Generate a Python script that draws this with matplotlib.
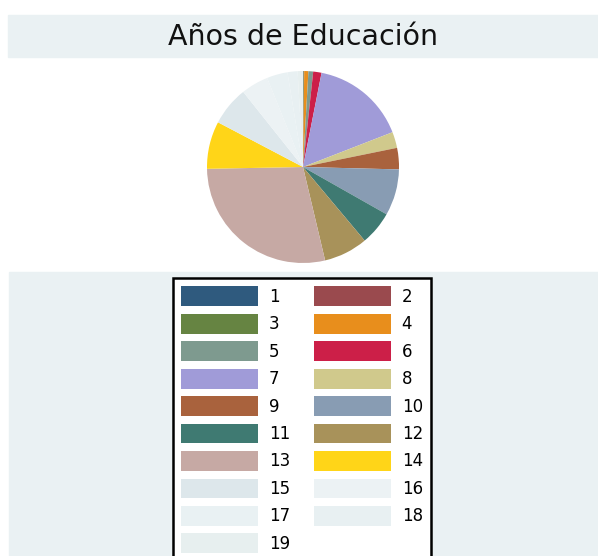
import matplotlib
matplotlib.use("Agg")
import matplotlib.pyplot as plt
from matplotlib.patches import Rectangle, Patch

# years of education categories and their share (%)
categories = [str(i) for i in range(1, 20)]
shares = [0.05, 0.05, 0.1, 0.7, 0.8, 1.4, 16.0, 2.7, 3.6, 7.8,
          5.7, 7.4, 28.4, 8.0, 6.6, 4.6, 3.5, 1.7, 0.9]
colors = ["#2f5a7e", "#9a4a4e", "#668442", "#e88e1c", "#7e9a8f",
          "#cc1f48", "#a09bd8", "#d0c98c", "#a9623d", "#889cb3",
          "#3f7a72", "#a8925a", "#c6a9a4", "#ffd518", "#dde7eb",
          "#ecf2f4", "#e9f1f3", "#e8f0f2", "#e7efef"]
title = "Años de Educación"

W, H = 598, 556
band = "#eaf1f3"

fig = plt.figure(figsize=(W / 100, H / 100), dpi=100)
fig.patch.set_facecolor("white")

# title band and legend band
fig.patches.append(Rectangle((8 / W, 1 - 57 / H), 590 / W, 42 / H,
                             transform=fig.transFigure, color=band, zorder=0))
fig.patches.append(Rectangle((9 / W, 0), 589 / W, 1 - 272 / H,
                             transform=fig.transFigure, color=band, zorder=0))
fig.text(303 / W, 1 - 37 / H, title, ha="center", va="center",
         fontsize=20.5, family="DejaVu Sans", color="#111111")

# pie
cx, cy, box = 303, 167, 200
ax = fig.add_axes([(cx - box / 2) / W, 1 - (cy + box / 2) / H, box / W, box / H])
ax.pie(shares, colors=colors, startangle=90, counterclock=False,
       wedgeprops=dict(linewidth=0))
lim = box / 2 / 96
ax.set_xlim(-lim, lim)
ax.set_ylim(-lim, lim)
ax.set_aspect("equal")
ax.axis("off")

# legend, filled row by row (odd numbers left, even numbers right)
order = list(range(0, 19, 2)) + list(range(1, 19, 2))
handles = [Patch(facecolor=colors[i], edgecolor="none") for i in order]
labels = [categories[i] for i in order]
fs = 12
leg = fig.legend(handles, labels, loc="upper left",
                 bbox_to_anchor=(173 / W, 1 - 278 / H), ncol=2,
                 prop={"family": "DejaVu Sans", "size": fs},
                 handlelength=4.6, handleheight=1.45, handletextpad=0.65,
                 columnspacing=1.45, labelspacing=0.46, borderpad=0.5,
                 borderaxespad=0, fancybox=False, frameon=True)
fr = leg.get_frame()
fr.set_edgecolor("black")
fr.set_linewidth(1.8)
fr.set_facecolor("white")
fr.set_alpha(1)

fig.savefig("out.png", dpi=100)
